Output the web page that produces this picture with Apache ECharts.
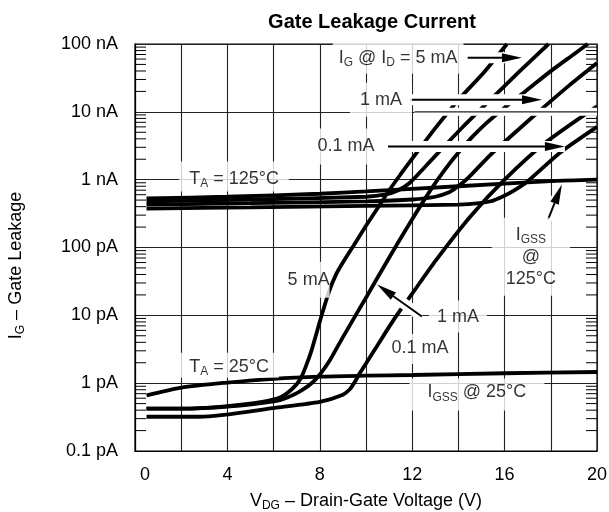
<!DOCTYPE html>
<html><head><meta charset="utf-8">
<script src="https://cdn.jsdelivr.net/npm/echarts@6/dist/echarts.min.js"></script>
<style>html,body{margin:0;padding:0;background:#fff}#c{width:609px;height:512px}</style>
</head><body><div id="c"></div>
<script>
const FONT = '"Liberation Sans", Arial, Helvetica, sans-serif';

// axis ticks
const xTickLabels = [0, 4, 8, 12, 16, 20];
const yTickValues = [0.1, 1, 10, 100, 1000, 10000, 100000];
const yTickLabels = ['0.1 pA', '1 pA', '10 pA', '100 pA', '1 nA', '10 nA', '100 nA'];
const minorDecades = [0.1, 1, 10, 100, 1000, 10000];
const minorMultipliers = [2, 3, 4, 5, 6, 7, 8, 9];

// series: [V_DG (V), I_G (pA)]
const igss25 = [[0.5,0.66],[2,0.86],[4,1.02],[6,1.16],[8,1.25],[10,1.29],[12,1.32],[16,1.4],[20,1.46]];
const id5_25 = [[0.5,0.42],[2,0.42],[4,0.46],[5.5,0.53],[6.3,0.62],[6.8,0.82],[7.14,1.12],[7.4,1.78],[7.65,3.1],[8.08,10],[8.4,22.4],[8.7,39.8],[9.0,60],[9.5,112],[10.0,209],[10.5,380],[11.0,692],[11.5,1202],[12.0,2042],[13.0,5754],[14.0,15000],[15.1,38000],[16.1,100000]];
const id1_25 = [[0.5,0.42],[2,0.42],[4,0.45],[6,0.537],[6.6,0.617],[7.14,0.759],[7.5,0.912],[7.8,1.12],[8.1,1.48],[8.44,2.19],[9.02,4.9],[10.03,19],[10.95,66],[11.9,230],[12.8,708],[13.4,1380],[14.0,2512],[14.6,4266],[15.2,6761],[16,11480],[17,21380],[18,39810],[19,70800],[19.6,100000]];
const id01_25 = [[0.5,0.32],[2.8,0.32],[6.2,0.44],[8,0.53],[9,0.676],[9.3,0.813],[9.5,1.02],[9.7,1.35],[10.0,1.95],[10.5,3.63],[11.0,6.76],[11.47,11.7],[12,20.9],[13,63],[14.5,282],[16,1000],[17.75,3467],[20,12020]];
const igss125 = [[0.5,530],[4,560],[8,620],[10,670],[14,800],[18,950],[20,1000]];
const id5_125 = [[0.5,480],[5,510],[10,560],[10.8,600],[11.4,700],[11.9,900],[12.6,1600],[13.3,2884],[14.2,6026],[15.3,14125],[16.6,38019],[17.9,100000]];
const id1_125 = [[0.5,430],[5,450],[10,480],[12,510],[13.0,560],[13.6,650],[13.9,759],[14.4,1047],[15.4,2344],[16.6,5495],[17.6,10965],[18.8,24547],[20,52480]];
const id01_125 = [[0.5,375],[5,390],[10,410],[14,430],[14.9,450],[15.4,480],[15.9,560],[16.4,690],[17.0,950],[18.4,2500],[20,6000]];

// annotations (data coordinates)
const labels = [
  {at:[11.39,62500], text:'{n|I}{s|G}{n| @ I}{s|D}{n| = 5 mA}', pad:[5,6,5,6]},
  {at:[10.65,15100], text:'{n|1 mA}', pad:[6,10,6,10]},
  {at:[9.13,3090], text:'{n|0.1 mA}', pad:[7,8,7,8]},
  {at:[4.29,1110], text:'{n|T}{s|A}{n| = 125°C}', pad:[6,10,2,10]},
  {at:[17.14,73], text:'{n|I}{s|GSS}\n{n|@}\n{n|125°C}', pad:[6,14,6,14]},
  {at:[7.3,33.6], text:'{n|5 mA}', pad:[7,0,7,10]},
  {at:[13.98,9.6], text:'{n|1 mA}', pad:[5,8,5,8]},
  {at:[12.42,3.2], text:'{n|0.1 mA}', pad:[3,8,5,4]},
  {at:[4.07,1.84], text:'{n|T}{s|A}{n| = 25°C}', pad:[3,10,0,10]},
  {at:[14.8,0.68], text:'{n|I}{s|GSS}{n| @ 25°C}', pad:[3,18,7,18]}
];
const arrows = [
  [14.4,62500,16.75,62500],
  [11.9,15100,17.62,15100],
  [10.95,3090,18.61,3090],
  [12.42,9.6,10.48,28.4],
  [17.88,257,18.48,850]
];
const gridBreaks = [[12.1,10000,20,10000]];

const minorTicks = [];
minorDecades.forEach(d => minorMultipliers.forEach(m => minorTicks.push([0, m * d])));

const rich = {
  n: {fontFamily: FONT, fontSize: 18, color: '#000', lineHeight: 22},
  s: {fontFamily: FONT, fontSize: 12, color: '#000', lineHeight: 12, verticalAlign: 'bottom'}
};

function curve(name, data) {
  return {name, type: 'line', data, symbol: 'none', smooth: 0.25,
    lineStyle: {color: '#000', width: 3.8}, z: 3, silent: true, animation: false};
}

const chart = echarts.init(document.getElementById('c'), null, {renderer: 'canvas'});
chart.setOption({
  animation: false,
  backgroundColor: '#fff',
  title: {text: 'Gate Leakage Current', left: 367, top: 7, textAlign: 'center',
    textStyle: {fontFamily: FONT, fontSize: 20, fontWeight: 'bold', color: '#000'}},
  grid: {left: 135, right: 12, top: 44, bottom: 61, show: true, borderColor: '#000', borderWidth: 1.2,
    backgroundColor: 'transparent', containLabel: false, outerBoundsMode: 'none'},
  xAxis: {type: 'value', min: 0, max: 20, interval: 2,
    name: '{n|V}{s|DG}{n| – Drain-Gate Voltage (V)}', nameLocation: 'middle', nameGap: 39,
    nameTextStyle: {rich},
    axisLine: {show: true, lineStyle: {color: '#000', width: 1.2}},
    axisTick: {show: false},
    splitLine: {show: true, lineStyle: {color: '#222', width: 1.1}},
    axisLabel: {margin: 15, color: '#000', fontFamily: FONT, fontSize: 18,
      formatter: v => xTickLabels.indexOf(v) < 0 ? '' : (v === 0 ? '{z|0}' : String(v)),
      rich: {z: {fontFamily: FONT, fontSize: 18, color: '#000', padding: [0, 0, 0, 20]}}}
  },
  yAxis: {type: 'log', logBase: 10, min: 0.1, max: 100000, splitNumber: 6,
    name: '{n|I}{s|G}{n| – Gate Leakage}', nameLocation: 'middle', nameGap: 108, nameRotate: 90,
    nameTextStyle: {rich, padding: [0, 36, 0, 0]},
    axisLine: {show: true, lineStyle: {color: '#000', width: 1.2}},
    axisTick: {show: false},
    splitLine: {show: true, lineStyle: {color: '#222', width: 1.1}},
    axisLabel: {margin: 17, color: '#000', fontFamily: FONT, fontSize: 18,
      formatter: v => {
        const i = yTickValues.findIndex(t => Math.abs(Math.log10(t) - Math.log10(v)) < 1e-6);
        return i < 0 ? '' : yTickLabels[i];
      }}
  },
  series: [
    {type: 'custom', data: minorTicks, encode: {x: 0, y: 1}, z: 1, silent: true, clip: false,
      renderItem: (p, api) => {
        const v = api.value(1);
        const l = api.coord([0, v]), r = api.coord([20, v]);
        return {type: 'group', children: [
          {type: 'line', shape: {x1: l[0], y1: l[1], x2: l[0] + 11, y2: l[1]}, style: {stroke: '#000', lineWidth: 1}},
          {type: 'line', shape: {x1: r[0] - 11, y1: r[1], x2: r[0], y2: r[1]}, style: {stroke: '#000', lineWidth: 1}}
        ]};
      }},
    curve('IGSS 25°C', igss25),
    curve('5 mA 25°C', id5_25),
    curve('1 mA 25°C', id1_25),
    curve('0.1 mA 25°C', id01_25),
    curve('IGSS 125°C', igss125),
    curve('5 mA 125°C', id5_125),
    curve('1 mA 125°C', id1_125),
    curve('0.1 mA 125°C', id01_125),
    {type: 'custom', data: gridBreaks, z: 4, silent: true, clip: false,
      encode: {x: [0, 2], y: [1, 3]},
      renderItem: (p, api) => {
        const a = api.coord([api.value(0), api.value(1)]), b = api.coord([api.value(2), api.value(3)]);
        return {type: 'group', children: [
          {type: 'line', shape: {x1: a[0], y1: a[1], x2: b[0], y2: b[1]}, style: {stroke: '#fff', lineWidth: 8}},
          {type: 'line', shape: {x1: a[0], y1: a[1], x2: b[0], y2: b[1]}, style: {stroke: '#222', lineWidth: 1.1}}
        ]};
      }},
    {type: 'custom', data: arrows, z: 5, silent: true, clip: false,
      encode: {x: [0, 2], y: [1, 3]},
      renderItem: (p, api) => {
        const a = api.coord([api.value(0), api.value(1)]), b = api.coord([api.value(2), api.value(3)]);
        const dx = b[0] - a[0], dy = b[1] - a[1], len = Math.hypot(dx, dy), ux = dx / len, uy = dy / len;
        const hl = 20, hw = 4.5, bx = b[0] - ux * hl, by = b[1] - uy * hl;
        return {type: 'group', children: [
          {type: 'line', shape: {x1: a[0], y1: a[1], x2: b[0], y2: b[1]}, style: {stroke: '#fff', lineWidth: 11}},
          {type: 'line', shape: {x1: a[0], y1: a[1], x2: bx, y2: by}, style: {stroke: '#000', lineWidth: 2}},
          {type: 'polygon', shape: {points: [[b[0], b[1]], [bx - uy * hw, by + ux * hw], [bx + uy * hw, by - ux * hw]]}, style: {fill: '#000'}}
        ]};
      }},
    {type: 'scatter', z: 6, silent: true, symbolSize: 0,
      data: labels.map(l => ({value: l.at, label: {formatter: l.text, padding: l.pad}})),
      label: {show: true, position: 'inside', align: 'center', verticalAlign: 'middle',
        backgroundColor: '#fff', rich, color: '#000'}}
  ]
});
</script></body></html>
